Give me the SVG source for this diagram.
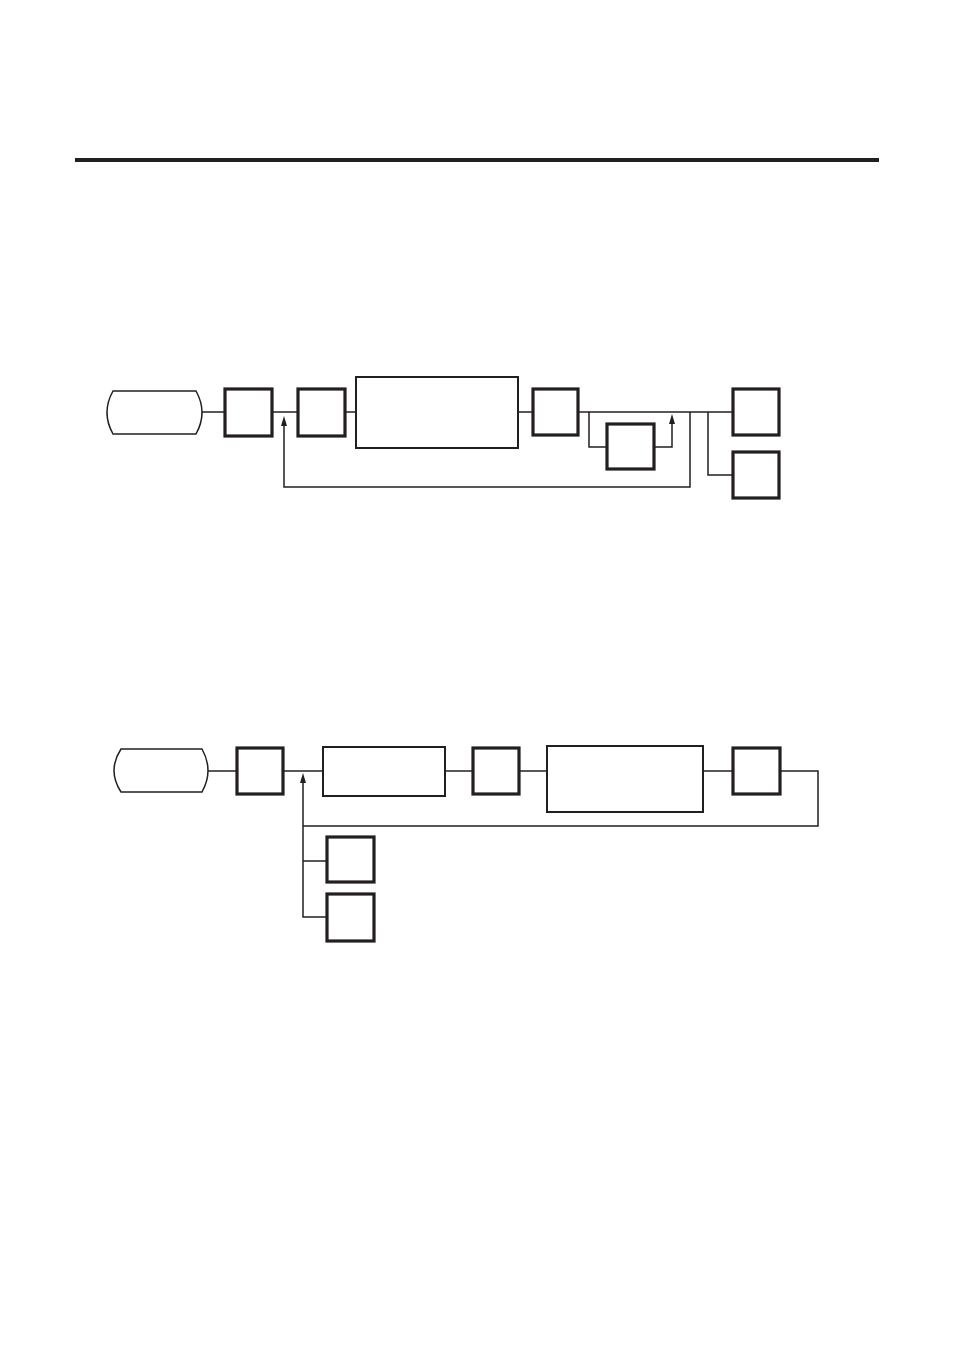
<svg xmlns="http://www.w3.org/2000/svg" width="954" height="1348" viewBox="0 0 954 1348">
<style>
.term{fill:#fff;stroke:#231f20;stroke-width:1.5}
.box{fill:#fff;stroke:#231f20;stroke-width:3.2}
.rect{fill:#fff;stroke:#231f20;stroke-width:2}
.ln{fill:none;stroke:#231f20;stroke-width:1.5}
.arr{fill:#231f20}
</style>
<rect x="75" y="158" width="804" height="4" fill="#231f20"/>
<g id="connectors">
<path class="ln" d="M202,412 H225"/>
<path class="ln" d="M272,412 H298"/>
<path class="ln" d="M345,412 H356"/>
<path class="ln" d="M518,412 H533"/>
<path class="ln" d="M578,412 H733"/>
<path class="ln" d="M589,412 V447 H607"/>
<path class="ln" d="M654,447 H672 V424"/>
<path class="arr" d="M669,424 L672,414 L675,424 Z"/>
<path class="ln" d="M690,412 V487 H284 V426"/>
<path class="arr" d="M281,426 L284,416 L287,426 Z"/>
<path class="ln" d="M708,412 V475 H733"/>
<path class="ln" d="M208,771 H237"/>
<path class="ln" d="M283,771 H323"/>
<path class="ln" d="M445,771 H473"/>
<path class="ln" d="M519,771 H547"/>
<path class="ln" d="M703,771 H733"/>
<path class="ln" d="M780,771 H818 V826 H303"/>
<path class="ln" d="M303,782 V917 H327"/>
<path class="arr" d="M300,783 L303,773 L306,783 Z"/>
<path class="ln" d="M303,861 H327"/>
</g>
<g id="d1-start"><path class="term" d="M113,391 H196 Q208,412.5 196,434 H113 Q101,412.5 113,391 Z"/></g>
<g id="d1-box1"><rect class="box" x="225" y="389" width="47" height="47"/></g>
<g id="d1-box2"><rect class="box" x="298" y="389" width="47" height="47"/></g>
<g id="d1-main"><rect class="rect" x="356" y="377" width="162" height="71"/></g>
<g id="d1-box3"><rect class="box" x="533" y="389" width="45" height="46"/></g>
<g id="d1-box4"><rect class="box" x="607" y="424" width="47" height="45"/></g>
<g id="d1-box5"><rect class="box" x="733" y="389" width="46" height="46"/></g>
<g id="d1-box6"><rect class="box" x="733" y="452" width="46" height="46"/></g>
<g id="d2-start"><path class="term" d="M121,749 H202 Q214,770.5 202,792 H121 Q107,770.5 121,749 Z"/></g>
<g id="d2-box1"><rect class="box" x="237" y="748" width="46" height="46"/></g>
<g id="d2-rect2"><rect class="rect" x="323" y="747" width="122" height="49"/></g>
<g id="d2-box3"><rect class="box" x="473" y="748" width="46" height="46"/></g>
<g id="d2-rect4"><rect class="rect" x="547" y="746" width="156" height="66"/></g>
<g id="d2-box5"><rect class="box" x="733" y="748" width="47" height="46"/></g>
<g id="d2-box6"><rect class="box" x="327" y="837" width="47" height="45"/></g>
<g id="d2-box7"><rect class="box" x="327" y="894" width="47" height="47"/></g>
</svg>
